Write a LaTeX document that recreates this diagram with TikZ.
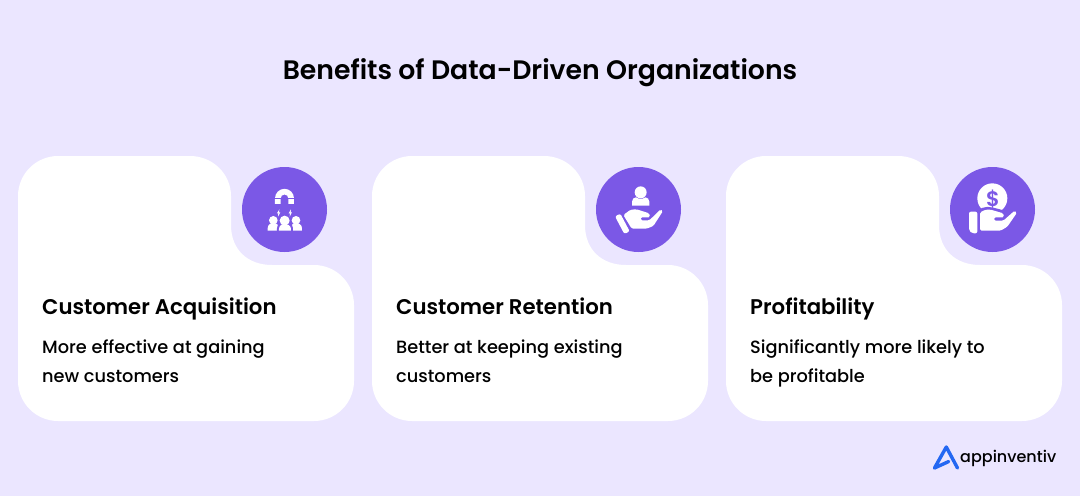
\documentclass[tikz,border=0pt]{standalone}
\usepackage{fontspec}
\setmainfont{Poppins}[UprightFont=* Medium,BoldFont=* SemiBold]
\definecolor{bgc}{HTML}{EBE6FF}
\definecolor{pur}{HTML}{7B58E6}
\definecolor{logob}{HTML}{2468F2}
\tikzset{
 x=1pt,y=-1pt,
 cardbox/.style={fill=white,draw=none},
 badge/.style={fill=pur,draw=none,circle,minimum size=85pt,inner sep=0pt},
 titletext/.style={anchor=base,inner sep=0pt,font=\bfseries\fontsize{26.7}{30}\selectfont,text=black},
 headtext/.style={anchor=base west,inner sep=0pt,font=\bfseries\fontsize{21.25}{25}\selectfont,text=black},
 bodytext/.style={anchor=base west,inner sep=0pt,font=\fontsize{17.75}{21}\selectfont,text=black},
 icn/.style={fill=white,draw=none},
 icnp/.style={fill=pur,draw=none},
}
\newcommand{\cardpath}{(58,156) -- (190,156) arc[start angle=90,end angle=0,x radius=41,y radius=-40]
 -- (231,225) .. controls (231,250) and (248,265) .. (272,265)
 -- (314,265) .. controls (336,265) and (354,283) .. (354,305)
 -- (354,381) .. controls (354,403) and (336,421) .. (314,421)
 -- (58,421) .. controls (36,421) and (18,403) .. (18,381)
 -- (18,196) .. controls (18,174) and (36,156) .. (58,156) -- cycle}
\begin{document}
\begin{tikzpicture}
\useasboundingbox (0,0) rectangle (1080,496);
\fill[bgc] (0,0) rectangle (1080,496);
\node[titletext] (title) at (540,79) {Benefits of Data-Driven Organizations};
% cards
\fill[cardbox] \cardpath;
\begin{scope}[shift={(354,0)}]\fill[cardbox] \cardpath;\end{scope}
\begin{scope}[shift={(708,0)}]\fill[cardbox] \cardpath;\end{scope}
\node[badge] (b1) at (284.5,209.5) {};
\node[badge] (b2) at (638.5,209.5) {};
\node[badge] (b3) at (992.5,209.5) {};
% texts
\node[headtext] (h1) at (42,314) {Customer Acquisition};
\node[bodytext] (t1a) at (42,353) {More effective at gaining};
\node[bodytext] (t1b) at (42,382) {new customers};
\node[headtext] (h2) at (396,314) {Customer Retention};
\node[bodytext] (t2a) at (396,353) {Better at keeping existing};
\node[bodytext] (t2b) at (396,382) {customers};
\node[headtext] (h3) at (750,314) {Profitability};
\node[bodytext] (t3a) at (750,353) {Significantly more likely to};
\node[bodytext] (t3b) at (750,382) {be profitable};
% icon 1: magnet and people (zoom coordinates)
\begin{scope}[shift={(210,150)},x=0.3333pt,y=-0.3333pt]
 \fill[icn] (195,162) -- (195,145) arc[start angle=180,end angle=0,x radius=28.5,y radius=-28.5] -- (252,162) -- (235,162) -- (235,145) arc[start angle=0,end angle=180,x radius=11.5,y radius=-11.5] -- (212,162) -- cycle;
 \fill[icnp] (192,143) rectangle (216,145.5);
 \fill[icnp] (231,143) rectangle (255,145.5);
 \foreach \cx in {206,241}{
  \fill[icn] (\cx+2,178) -- (\cx-5,190) -- (\cx-1,190) -- (\cx-2,200) -- (\cx+5,187) -- (\cx+1,187) -- cycle;
 }
 \fill[icn] (190,211) circle[radius=13];
 \fill[icn] (258,211) circle[radius=13];
 \fill[icn] (173,242) -- (173,235) .. controls (173,224) and (182,219) .. (190,219) .. controls (198,219) and (207,224) .. (207,235) -- (207,242) -- cycle;
 \fill[icn] (243,242) -- (243,235) .. controls (243,224) and (250,219) .. (258,219) .. controls (266,219) and (276,224) .. (276,235) -- (276,242) -- cycle;
 \fill[icnp] (224,212) circle[radius=18];
 \fill[icnp] (201,247) -- (201,235) .. controls (201,222) and (213,216) .. (224,216) .. controls (235,216) and (249,222) .. (249,235) -- (249,247) -- cycle;
 \fill[icn] (224,212) circle[radius=15];
 \fill[icn] (207,242) -- (207,237) .. controls (207,227) and (216,222) .. (224,222) .. controls (232,222) and (243,227) .. (243,237) -- (243,242) -- cycle;
\end{scope}
% icon 2: hand holding person
\begin{scope}[shift={(590,160)},x=0.3333pt,y=-0.3333pt]
 \fill[icn] (152,97) circle[radius=18];
 \fill[icn] (126,137) -- (126,125) .. controls (126,117) and (132,112) .. (138,112) .. controls (145,118) and (160,118) .. (166,112) .. controls (172,112) and (178,117) .. (178,125) -- (178,137) -- cycle;
 \fill[icn,rounded corners=2pt] (75,169) -- (91,161) -- (119,214) -- (103,222) -- cycle;
 \fill[icn,rounded corners=1.5pt] (100,165) -- (122,149) -- (140,148) -- (178,160) -- (180,172) -- (152,172) -- (152,181) -- (178,181) -- (212,148) -- (219,153) -- (190,198) -- (170,206) -- (125,206) -- cycle;
\end{scope}
% icon 3: hand holding coin
\begin{scope}[shift={(944,160)},x=0.3333pt,y=-0.3333pt]
 \fill[icn] (145,115) circle[radius=45];
 \node[inner sep=0pt,text=pur,font=\bfseries\fontsize{21}{21}\selectfont] (dollar) at (147,117) {\$};
 \fill[icnp,rounded corners=2pt] (100,150) -- (122,141) -- (140,141) -- (195,155) -- (195,225) -- (100,225) -- cycle;
 \fill[icn,rounded corners=2pt] (75,155) -- (100,155) -- (100,220) -- (84,220) -- (75,212) -- cycle;
 \fill[icn,rounded corners=1.5pt] (108,157) -- (125,149) -- (140,149) -- (178,160) -- (180,172) -- (150,172) -- (150,182) -- (178,182) -- (212,152) -- (219,158) -- (190,200) -- (170,212) -- (108,212) -- cycle;
\end{scope}
% logo
\draw[logob,line width=3.4pt,line join=round,line cap=round] (948.7,461.5) -- (934.5,468) -- (946.3,447) -- (957.5,468);
\node[anchor=base west,inner sep=0pt,font=\fontsize{16}{20}\selectfont,text=black] (brand) at (960,462) {appinventiv};
\end{tikzpicture}
\end{document}
